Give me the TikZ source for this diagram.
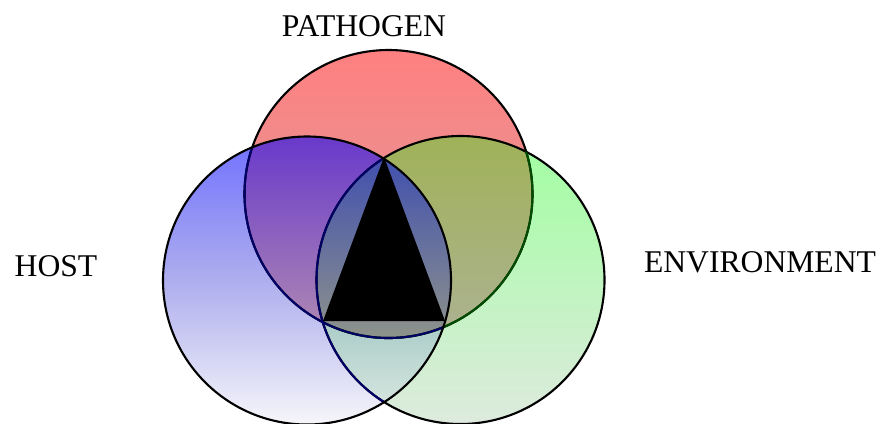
\documentclass[tikz,border=0pt]{standalone}
\usepackage{fontspec}
\setmainfont{Liberation Serif}

\definecolor{pathTop}{RGB}{255,128,128}
\definecolor{pathBot}{RGB}{215,160,160}
\definecolor{hostTop}{RGB}{112,112,255}
\definecolor{hostMid}{RGB}{174,174,238}
\definecolor{hostBot}{RGB}{246,246,250}
\definecolor{envTop}{RGB}{160,255,160}
\definecolor{envBot}{RGB}{222,234,222}
\definecolor{phTop}{RGB}{105,57,203}
\definecolor{phBot}{RGB}{208,175,166}
\definecolor{peTop}{RGB}{160,178,88}
\definecolor{peBot}{RGB}{178,178,171}
\definecolor{heTop}{RGB}{78,149,152}
\definecolor{heBot}{RGB}{222,235,227}
\definecolor{allTop}{RGB}{65,80,175}
\definecolor{allBot}{RGB}{142,147,138}

\begin{document}
\begin{tikzpicture}
        % Style definitions
        \tikzset{
            ring/.style={black, line width=0.6pt},
            venntext/.style={font=\fontsize{9}{11}\selectfont, anchor=base, inner sep=0pt}
        }
        \useasboundingbox (0,0) rectangle (8.81,4.23);

        % Circle centres and triangle corners
        \coordinate (P) at (3.885,2.29);
        \coordinate (H) at (3.07,1.425);
        \coordinate (E) at (4.605,1.43);
        \def\rad{1.44}
        \coordinate (tip) at (3.84,2.66);
        \coordinate (left) at (3.23,1.02);
        \coordinate (right) at (4.45,1.02);

        % ==========================================
        % SINGLE CIRCLES
        % ==========================================
        \shade[top color=pathTop, bottom color=pathBot] (P) circle (\rad);
        \shade[top color=envTop, bottom color=envBot] (E) circle (\rad);
        \shade[top color=hostTop, bottom color=hostBot, middle color=hostMid] (H) circle (\rad);

        % ==========================================
        % OVERLAPS
        % ==========================================
        \begin{scope}
            \clip (P) circle (\rad);
            \shade[top color=phTop, bottom color=phBot] (H) circle (\rad);
        \end{scope}
        \begin{scope}
            \clip (P) circle (\rad);
            \shade[top color=peTop, bottom color=peBot] (E) circle (\rad);
        \end{scope}
        \begin{scope}
            \clip (H) circle (\rad);
            \shade[top color=heTop, bottom color=heBot] (E) circle (\rad);
        \end{scope}
        \begin{scope}
            \clip (P) circle (\rad);
            \clip (H) circle (\rad);
            \clip (E) circle (\rad);
            \shade[top color=allTop, bottom color=allBot] (3.1,0.85) rectangle (4.7,2.66);
        \end{scope}

        % Outlines
        \draw[ring] (P) circle (\rad);
        \draw[ring] (E) circle (\rad);
        \begin{scope}
            \clip (E) circle (\rad);
            \draw[ring, green!30!black] (P) circle (\rad);
        \end{scope}
        \begin{scope}
            \clip (H) circle (\rad);
            \draw[ring, blue!40!black] (P) circle (\rad);
            \draw[ring, blue!40!black] (E) circle (\rad);
        \end{scope}
        \draw[ring] (H) circle (\rad);

        % Black triangle
        \fill[black] (tip) -- (left) -- (right) -- cycle;

        % Labels
        \node[venntext] (pathogen) at (3.64,3.87) {PATHOGEN};
        \node[venntext] (host) at (0.56,1.463) {HOST};
        \node[venntext] (environment) at (7.60,1.503) {ENVIRONMENT};
    \end{tikzpicture}
\end{document}
